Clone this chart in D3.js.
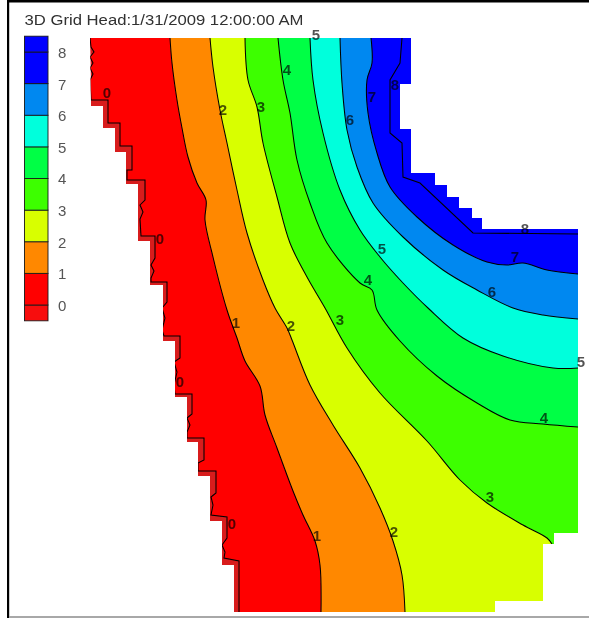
<!DOCTYPE html>
<html><head><meta charset="utf-8">
<style>html,body{margin:0;padding:0;background:#fff;overflow:hidden}svg{display:block}</style>
<script src="https://cdn.jsdelivr.net/npm/d3@7/dist/d3.min.js"></script>
</head><body><svg id="c" width="589" height="618"></svg>
<script>
const title = "3D Grid Head:1/31/2009 12:00:00 AM";
const levels = [0,1,2,3,4,5,6,7,8];
// colour of the band above each level (last = above 8), and below the lowest level
const bandColors = ["#ff0000","#ff8800","#d8ff00","#3cff00","#00ff44","#00ffdc","#0088f0","#0000ff","#0000ff"];
const belowColorMap = "#d81a1e";
const belowColorLegend = "#f70a0a";

// model grid extents
const gridX = [0,488], gridY = [0,574];

const boundary = [[0,574],[321,574],[321,528],[310,528],[310,483],[321,483],[321,439],[345,439],[345,427],[357,427],[357,415],[369,415],[369,404],[382,404],[382,394],[392,394],[392,383],[488,383],[488,79],[464,79],[464,68],[453,68],[453,11],[405,11],[405,0],[144,0],[144,47],[132,47],[132,91],[120,91],[120,136],[108,136],[108,170],[97,170],[97,215],[85,215],[85,271],[73,271],[73,327],[60,327],[60,371],[48,371],[48,428],[36,428],[36,460],[25,460],[25,484],[13,484],[13,506],[1,506],[0,574]];

const contour0 = [[0,574],[1,565],[4,560],[0,555],[3,549],[0,544],[3,538],[0,532],[1,512],[18,512],[18,489],[30,489],[30,466],[42,466],[42,442],[37,442],[37,432],[55,432],[55,412],[50,407],[53,400],[50,393],[51,376],[65,376],[65,354],[61,347],[64,341],[61,334],[61,330],[77,330],[77,310],[72,304],[75,294],[72,282],[74,276],[90,276],[90,254],[84,250],[87,240],[84,227],[85,218],[102,218],[102,198],[97,194],[100,187],[97,180],[97,174],[114,174],[114,152],[108,149],[108,141],[126,141],[126,119],[121,115],[123,107],[121,97],[137,95],[137,74],[132,67],[135,60],[134,54],[149,51],[149,0]];
const contour1 = [[80,574],[82,549],[87,512],[92,484],[98,455],[107,429],[116,412],[115,392],[123,355],[137,302],[147,274],[155,251],[170,226],[175,197],[187,164],[203,121],[213,97],[225,71],[230,47],[231,0]];
const contour2 = [[120,574],[123,545],[130,502],[137,469],[147,422],[157,379],[173,332],[185,304],[197,284],[202,272],[220,227],[243,187],[270,144],[290,104],[303,71],[312,37],[315,0]];
const contour3 = [[155,574],[158,532],[167,505],[173,469],[187,415],[200,369],[217,335],[235,304],[257,264],[290,219],[337,171],[370,132],[397,109],[433,87],[457,74],[462,68]];
const contour4 = [[188,574],[193,532],[200,499],[207,452],[220,409],[237,369],[270,329],[282,322],[287,302],[310,271],[347,236],[387,209],[420,192],[453,188],[488,185]];
const contour5 = [[220,574],[223,532],[233,479],[250,422],[270,382],[290,355],[313,329],[338,304],[373,274],[413,256],[463,244],[488,244]];
const contour6 = [[250,574],[252,529],[257,482],[267,445],[283,409],[313,375],[353,342],[387,322],[423,304],[453,297],[488,293]];
const contour7 = [[281,574],[282,549],[277,532],[278,499],[287,459],[300,425],[327,395],[363,367],[397,350],[417,347],[433,349],[457,342],[488,338]];
const contour8 = [[312,574],[310,549],[300,532],[300,479],[312,469],[313,435],[330,429],[383,379],[488,378]];
const contours = [contour0,contour1,contour2,contour3,contour4,contour5,contour6,contour7,contour8];

// contour labels: [level, x, y]
const contourLabels = [[0,17,519],[0,70,373],[0,90,230],[0,142,88],[1,146,289],[1,227,76],[2,133,502],[2,201,286],[2,304,80],[3,171,505],[3,250,292],[3,400,115],[4,197,542],[4,278,332],[4,454,194],[5,226,577],[5,292,363],[5,491,250],[6,260,492],[6,402,320],[7,282,515],[7,425,355],[8,305,527],[8,435,383]];

const svg = d3.select("#c");
const x = d3.scaleLinear().domain(gridX).range([90,578]);
const y = d3.scaleLinear().domain(gridY).range([612,38]);
const line = d3.line().x(d=>x(d[0])).y(d=>y(d[1]));
const smooth = d3.line().x(d=>x(d[0])).y(d=>y(d[1])).curve(d3.curveCatmullRom.alpha(0.5));
const isoPath = (c,i)=> (i===0||i===8) ? line(c) : smooth(c);

const defs = svg.append("defs");
defs.append("clipPath").attr("id","dom").append("path").attr("d",line(boundary)+"Z");
defs.append("filter").attr("id","soft").attr("x","-2%").attr("y","-2%").attr("width","104%").attr("height","104%")
  .append("feGaussianBlur").attr("stdDeviation",0.5);

// frame
svg.append("rect").attr("x",7).attr("y",0).attr("width",582).attr("height",2.5).attr("fill","#000");
svg.append("rect").attr("x",7).attr("y",0).attr("width",2.2).attr("height",618).attr("fill","#000");
svg.append("rect").attr("x",9).attr("y",616).attr("width",580).attr("height",2).attr("fill","#a8a8a8");

svg.append("text").text(title).attr("x",24.5).attr("y",25)
  .attr("font-family","Liberation Sans").attr("font-size",14)
  .attr("textLength",279).attr("lengthAdjust","spacingAndGlyphs")
  .attr("fill","#303030").attr("filter","url(#soft)");

// map
const map = svg.append("g").attr("filter","url(#soft)");
const fills = map.append("g").attr("clip-path","url(#dom)");
fills.append("path").attr("d",line(boundary)+"Z").attr("fill",belowColorMap);
const farX = gridX[1]+60, farY = gridY[1]+40;
fills.selectAll("path.band").data(contours).join("path").attr("class","band")
  .attr("fill",(d,i)=>bandColors[i])
  .attr("d",(c,i)=>{
    const first=c[0], last=c[c.length-1];
    return isoPath(c,i)+`L${x(farX)},${y(last[1])}L${x(farX)},${y(farY)}L${x(first[0])},${y(farY)}Z`;
  });
fills.selectAll("path.iso").data(contours).join("path").attr("class","iso")
  .attr("fill","none").attr("stroke","#000").attr("stroke-width",1.05)
  .attr("d",(c,i)=>isoPath(c,i));

map.selectAll("text").data(contourLabels).join("text")
  .attr("x",d=>x(d[1])).attr("y",d=>y(d[2])).attr("dy","0.36em")
  .attr("text-anchor","middle").attr("font-family","Liberation Sans")
  .attr("font-size",15).attr("font-weight","bold").attr("fill","#000").attr("fill-opacity",0.68)
  .text(d=>d[0]);

// legend
const ly = d3.scaleLinear().domain([0,8]).range([305,52]);
const legend = svg.append("g").attr("filter","url(#soft)");
const swatches = [{lo:-0.5,hi:0,c:belowColorLegend}].concat(levels.map((l,i)=>({lo:l,hi:i===8?l+0.5:l+1,c:bandColors[i]})));
legend.selectAll("rect").data(swatches).join("rect")
  .attr("x",24.5).attr("width",23.5)
  .attr("y",d=>ly(d.hi)).attr("height",d=>ly(d.lo)-ly(d.hi))
  .attr("fill",d=>d.c).attr("stroke","#1a1a1a").attr("stroke-width",0.9);
const axis = d3.axisRight(ly).tickValues(levels).tickSize(0).tickPadding(0).tickFormat(d3.format("d"));
const ag = legend.append("g").attr("transform","translate(58,0)").call(axis);
ag.select(".domain").remove();
ag.selectAll("text").attr("font-family","Liberation Sans").attr("font-size",15).attr("fill","#555").attr("dy","0.36em");
</script></body></html>
